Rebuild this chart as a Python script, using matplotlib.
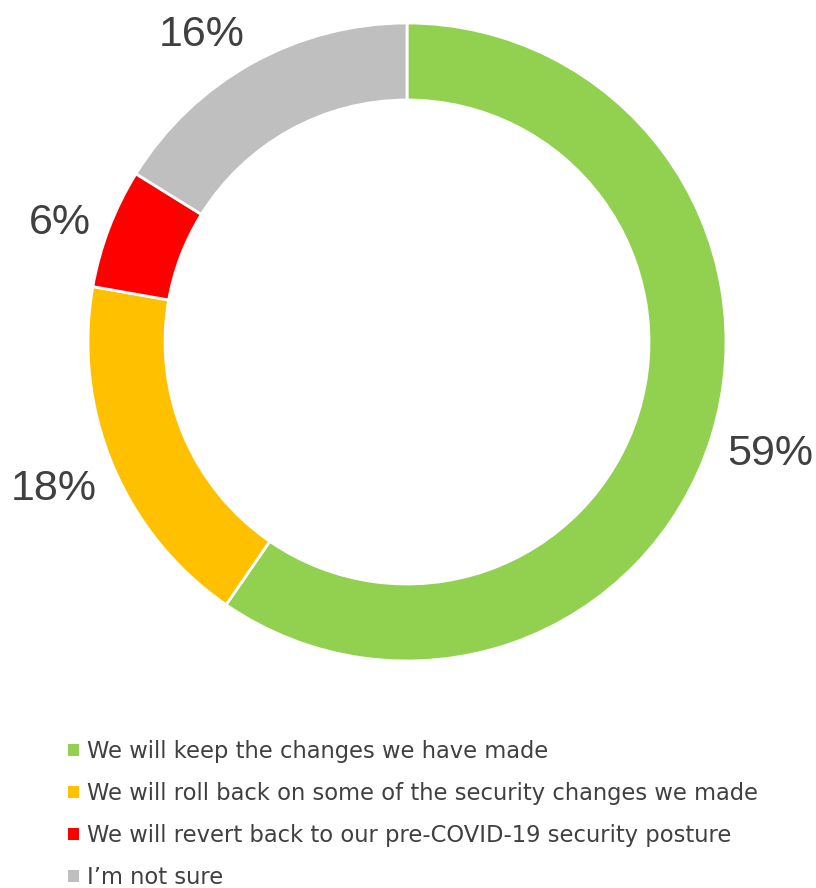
import matplotlib
matplotlib.use("Agg")
import matplotlib.pyplot as plt
from matplotlib.patches import Patch

categories = [
    "We will keep the changes we have made",
    "We will roll back on some of the security changes we made",
    "We will revert back to our pre-COVID-19 security posture",
    "I\u2019m not sure",
]
values = [59, 18, 6, 16]
colors = ["#92D050", "#FFC000", "#FF0000", "#BFBFBF"]
label_text = ["59%", "18%", "6%", "16%"]

W, H = 816, 888
fig = plt.figure(figsize=(W / 100, H / 100), dpi=100)
ax = fig.add_axes([0, 0, 1, 1])
ax.set_xlim(0, W)
ax.set_ylim(0, H)
ax.set_aspect("equal")
ax.axis("off")

cx, cy, R, ring = 407, H - 342, 319, 77
wedges, _ = ax.pie(
    values, colors=colors, startangle=90, counterclock=False,
    center=(cx, cy), radius=R,
    wedgeprops=dict(width=ring, edgecolor="white", linewidth=2),
)
ax.set_xlim(0, W)
ax.set_ylim(0, H)

text_color = "#404040"
label_font = ["Liberation Sans", "DejaVu Sans"]
label_pos = [(770, H - 454), (54, H - 489), (60, H - 223), (202, H - 35)]
for (x, y), t in zip(label_pos, label_text):
    ax.text(x, y, t, ha="center", va="center", fontsize=31,
            color=text_color, family=label_font)

handles = [Patch(facecolor=c, edgecolor="none") for c in colors]
leg = ax.legend(
    handles, categories, loc="upper left",
    bbox_to_anchor=(57 / W, 1 - 729 / H), bbox_transform=fig.transFigure,
    frameon=False, handlelength=0.45, handleheight=0.45, handletextpad=0.38,
    labelspacing=0.835, borderpad=0,
    prop=dict(family=["DejaVu Sans"], size=16.3),
)
for t in leg.get_texts():
    t.set_color(text_color)

fig.savefig("out.png", dpi=100, facecolor="white")
